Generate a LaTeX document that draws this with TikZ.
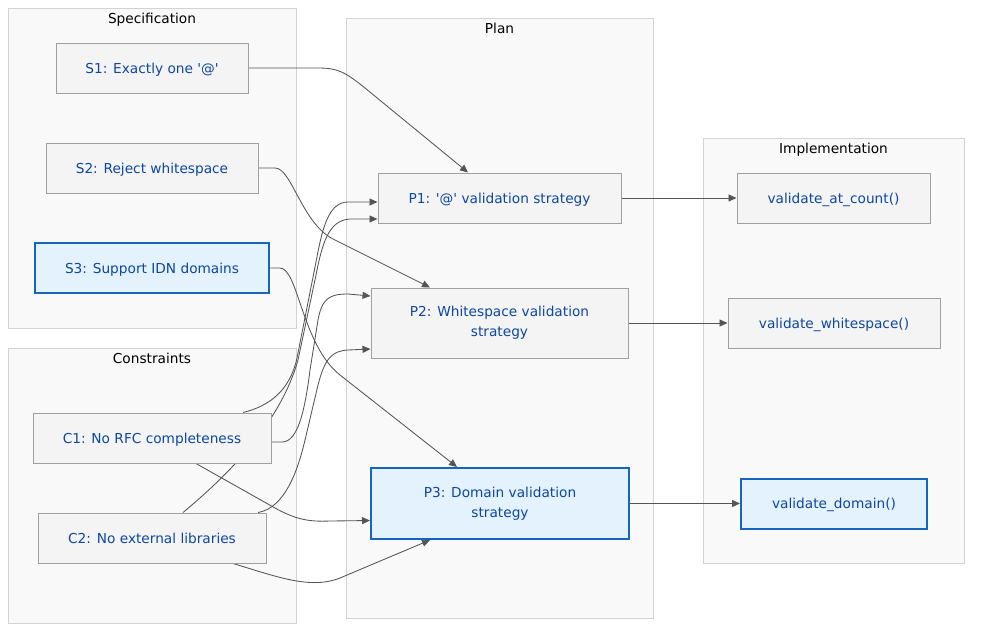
\documentclass[tikz,border=0pt]{standalone}
\usepackage{fontspec}
\setmainfont{DejaVu Sans}
\usetikzlibrary{arrows.meta}
\definecolor{nodefill}{HTML}{F4F4F4}
\definecolor{nodeline}{HTML}{A0A0A0}
\definecolor{hifill}{HTML}{E3F2FD}
\definecolor{hiline}{HTML}{1565C0}
\definecolor{txtblue}{HTML}{0D47A1}
\definecolor{clfill}{HTML}{F9F9F9}
\definecolor{clline}{HTML}{D3D3D3}
\definecolor{edgecol}{HTML}{555555}
\pgfdeclarelayer{bg}
\pgfdeclarelayer{edges}
\pgfsetlayers{bg,edges,main}
\begin{document}
\begin{tikzpicture}[x=1pt,y=-1pt,
  box/.style={draw=nodeline, line width=1pt, fill=nodefill, text=txtblue, inner sep=0pt, align=center, font=\fontsize{13.7}{20}\selectfont},
  hibox/.style={box, draw=hiline, fill=hifill, line width=2pt},
  one/.style={text height=10pt, text depth=0pt},
  cluster/.style={draw=clline, fill=clfill, line width=1pt, inner sep=0pt},
  ctitle/.style={anchor=base, text=black, inner sep=0pt, font=\fontsize{13.7}{16}\selectfont},
  edge/.style={draw=edgecol, line width=0.85pt, -{Triangle[length=8pt,width=7pt]}}]
\useasboundingbox (0,0) rectangle (981,637);

\begin{pgfonlayer}{bg}
  \fill[white] (0,0) rectangle (981,637);
  \node[cluster, minimum width=288pt, minimum height=320pt] (spec) at (152,168) {};
  \node[cluster, minimum width=288pt, minimum height=275pt] (cons) at (152,485.5) {};
  \node[cluster, minimum width=307pt, minimum height=600pt] (plan) at (499.5,318) {};
  \node[cluster, minimum width=261pt, minimum height=425pt] (impl) at (833.5,350.5) {};
  \node[ctitle] (spect) at (152,23.5) {Specification};
  \node[ctitle] (const) at (152,363.5) {Constraints};
  \node[ctitle] (plant) at (499.5,33.5) {Plan};
  \node[ctitle] (implt) at (833.5,153.5) {Implementation};
\end{pgfonlayer}

\node[box, one, minimum width=192pt, minimum height=50pt] (S1) at (152,68) {S1: Exactly one \textquotesingle @\textquotesingle};
\node[box, one, minimum width=212pt, minimum height=50pt] (S2) at (152,168) {S2: Reject whitespace};
\node[hibox, one, minimum width=234pt, minimum height=50pt] (S3) at (152,268) {S3: Support IDN domains};
\node[box, one, minimum width=238pt, minimum height=50pt] (C1) at (152,438) {C1: No RFC completeness};
\node[box, one, minimum width=228pt, minimum height=50pt] (C2) at (152,538) {C2: No external libraries};
\node[box, one, minimum width=243pt, minimum height=50pt] (P1) at (499.5,198) {P1: \textquotesingle @\textquotesingle\ validation strategy};
\node[box, minimum width=257pt, minimum height=70pt] (P2) at (499.5,323) {P2: Whitespace validation\\strategy};
\node[hibox, minimum width=258pt, minimum height=71pt] (P3) at (500,503.5) {P3: Domain validation\\strategy};
\node[box, one, minimum width=193pt, minimum height=50pt] (I1) at (833.5,198) {validate\_at\_count()};
\node[box, one, minimum width=212pt, minimum height=50pt] (I2) at (834,323) {validate\_whitespace()};
\node[hibox, one, minimum width=186pt, minimum height=50pt] (I3) at (834,503.5) {validate\_domain()};

\begin{pgfonlayer}{edges}
  \draw[edge] (S1.east) -- (318,68) .. controls (338,68) and (345,72) .. (365,88) -- ([xshift=-31.5pt]P1.north);
  \draw[edge] (S2.east) -- (275,168) .. controls (292,168) and (302,225) .. (335,240) -- ([xshift=-69.5pt]P2.north);
  \draw[edge] (S3.east) -- (280,268) .. controls (298,268) and (302,345) .. (340,375) -- ([xshift=-43pt]P3.north);
  \draw[edge] ([xshift=91pt]C1.north) .. controls (270,406) and (290,390) .. (297,358) -- (316,262) .. controls (322,230) and (328,202) .. (348,202) -- ([yshift=-4pt]P1.west);
  \draw[edge] ([xshift=31pt]C2.north) .. controls (233,471) and (281,420) .. (298,360) -- (316,275) .. controls (322,245) and (328,220) .. (350,219) -- ([yshift=-21pt]P1.west);
  \draw[edge] ([yshift=-4pt]C1.east) -- (282,442) .. controls (298,442) and (305,410) .. (310,370) -- (318,320) .. controls (322,298) and (330,294) .. (348,294) -- ([yshift=27pt]P2.west);
  \draw[edge] ([xshift=44pt]C1.south) -- (275,508) .. controls (295,519) and (308,522) .. (330,521) -- ([yshift=-17pt]P3.west);
  \draw[edge] ([xshift=106pt]C2.north) .. controls (285,508) and (298,470) .. (305,440) -- (318,385) .. controls (325,358) and (332,351) .. (348,350) -- ([yshift=-26pt]P2.west);
  \draw[edge] ([xshift=81pt]C2.south) .. controls (275,576) and (310,590) .. (340,578) -- ([xshift=-70pt]P3.south);
  \draw[edge] (P1.east) -- (I1.west);
  \draw[edge] (P2.east) -- (I2.west);
  \draw[edge] (P3.east) -- (I3.west);
\end{pgfonlayer}
\end{tikzpicture}
\end{document}
